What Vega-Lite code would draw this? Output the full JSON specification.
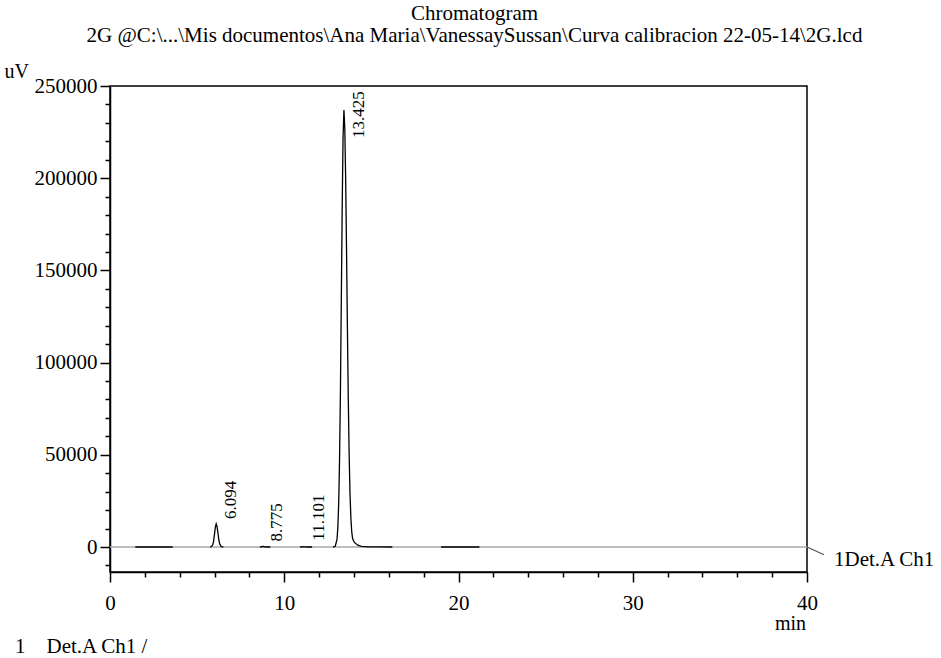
{
  "$schema": "https://vega.github.io/schema/vega-lite/v6.json",
  "width": 697,
  "height": 486,
  "autosize": {"type": "none"},
  "padding": {"left": 110, "top": 86, "right": 134, "bottom": 86},
  "background": "white",
  "title": {
    "text": ["Chromatogram", "2G @C:\\...\\Mis documentos\\Ana Maria\\VanessaySussan\\Curva calibracion 22-05-14\\2G.lcd"],
    "font": "Liberation Serif",
    "fontSize": 21,
    "fontWeight": "normal",
    "color": "black",
    "lineHeight": 22,
    "anchor": "middle",
    "frame": "group",
    "dx": 16,
    "offset": 15
  },
  "config": {
    "font": "Liberation Serif",
    "view": {"stroke": "black", "strokeWidth": 1.5},
    "axis": {
      "grid": false,
      "domainColor": "black",
      "domainWidth": 1.5,
      "tickColor": "black",
      "tickWidth": 1.5,
      "labelColor": "black",
      "labelFont": "Liberation Serif",
      "labelFontSize": 21,
      "labelOverlap": false,
      "labelFlush": false,
      "titleFont": "Liberation Serif",
      "titleFontWeight": "normal",
      "titleColor": "black",
      "titleFontSize": 20
    }
  },
  "resolve": {"axis": {"x": "independent", "y": "independent"}},
  "datasets": {
    "zero": [
      {"t": 0, "uV": 0},
      {"t": 40, "uV": 0}
    ],
    "signal": [
      {"seg": 1, "t": 1.45, "uV": 0},
      {"seg": 1, "t": 3.6, "uV": 0},
      {"seg": 2, "t": 5.75, "uV": 0},
      {"seg": 2, "t": 5.794, "uV": 50},
      {"seg": 2, "t": 5.894, "uV": 1060},
      {"seg": 2, "t": 5.944, "uV": 3100},
      {"seg": 2, "t": 5.994, "uV": 6740},
      {"seg": 2, "t": 6.044, "uV": 10700},
      {"seg": 2, "t": 6.094, "uV": 12500},
      {"seg": 2, "t": 6.144, "uV": 11000},
      {"seg": 2, "t": 6.194, "uV": 7580},
      {"seg": 2, "t": 6.244, "uV": 4060},
      {"seg": 2, "t": 6.294, "uV": 1690},
      {"seg": 2, "t": 6.394, "uV": 140},
      {"seg": 2, "t": 6.5, "uV": 0},
      {"seg": 3, "t": 8.6, "uV": 0},
      {"seg": 3, "t": 8.7, "uV": 150},
      {"seg": 3, "t": 8.775, "uV": 300},
      {"seg": 3, "t": 8.85, "uV": 150},
      {"seg": 3, "t": 9.0, "uV": 0},
      {"seg": 3, "t": 9.2, "uV": 0},
      {"seg": 4, "t": 10.9, "uV": 0},
      {"seg": 4, "t": 11.02, "uV": 120},
      {"seg": 4, "t": 11.101, "uV": 250},
      {"seg": 4, "t": 11.18, "uV": 120},
      {"seg": 4, "t": 11.3, "uV": 0},
      {"seg": 4, "t": 11.6, "uV": 0},
      {"seg": 5, "t": 12.8, "uV": 0},
      {"seg": 5, "t": 12.825, "uV": 24},
      {"seg": 5, "t": 12.925, "uV": 400},
      {"seg": 5, "t": 13.025, "uV": 4000},
      {"seg": 5, "t": 13.075, "uV": 10400},
      {"seg": 5, "t": 13.125, "uV": 23900},
      {"seg": 5, "t": 13.175, "uV": 48100},
      {"seg": 5, "t": 13.225, "uV": 85300},
      {"seg": 5, "t": 13.275, "uV": 133500},
      {"seg": 5, "t": 13.325, "uV": 183700},
      {"seg": 5, "t": 13.375, "uV": 222300},
      {"seg": 5, "t": 13.425, "uV": 237000},
      {"seg": 5, "t": 13.475, "uV": 227000},
      {"seg": 5, "t": 13.525, "uV": 199400},
      {"seg": 5, "t": 13.575, "uV": 160600},
      {"seg": 5, "t": 13.625, "uV": 118700},
      {"seg": 5, "t": 13.675, "uV": 80400},
      {"seg": 5, "t": 13.725, "uV": 49900},
      {"seg": 5, "t": 13.775, "uV": 28500},
      {"seg": 5, "t": 13.825, "uV": 15500},
      {"seg": 5, "t": 13.875, "uV": 8000},
      {"seg": 5, "t": 13.925, "uV": 4500},
      {"seg": 5, "t": 14.025, "uV": 2500},
      {"seg": 5, "t": 14.225, "uV": 1000},
      {"seg": 5, "t": 14.425, "uV": 400},
      {"seg": 5, "t": 14.825, "uV": 120},
      {"seg": 5, "t": 15.4, "uV": 30},
      {"seg": 5, "t": 16.2, "uV": 0},
      {"seg": 6, "t": 19.0, "uV": 0},
      {"seg": 6, "t": 21.2, "uV": 0}
    ],
    "peaks": [
      {"label": "6.094", "t": 6.97, "uV": 15200},
      {"label": "8.775", "t": 9.61, "uV": 3000},
      {"label": "11.101", "t": 11.99, "uV": 3400},
      {"label": "13.425", "t": 14.29, "uV": 221800}
    ],
    "leader": [
      {"t": 40, "uV": 0, "t2": 40.98, "uV2": -4170}
    ],
    "chan": [
      {"label": "1Det.A Ch1", "t": 41.55, "uV": -6900}
    ],
    "foot": [
      {"label": "1\u00a0\u00a0\u00a0 Det.A Ch1 /", "t": -5.45, "uV": -54000}
    ]
  },
  "layer": [
    {
      "data": {"name": "zero"},
      "mark": {"type": "line", "color": "#a9a9a9", "strokeWidth": 1.3},
      "encoding": {
        "x": {
          "field": "t",
          "type": "quantitative",
          "scale": {"domain": [0, 40], "nice": false, "zero": false},
          "axis": {
            "orient": "bottom",
            "values": [0, 10, 20, 30, 40],
            "tickSize": 10,
            "labelPadding": 10,
            "title": "min",
            "titleX": 680,
            "titleY": 57,
            "titleAlign": "center",
            "titleBaseline": "alphabetic"
          }
        },
        "y": {
          "field": "uV",
          "type": "quantitative",
          "scale": {"domain": [-13550, 250000], "nice": false, "zero": false},
          "axis": {
            "orient": "left",
            "values": [0, 50000, 100000, 150000, 200000, 250000],
            "format": "d",
            "tickSize": 10,
            "labelPadding": 3,
            "title": "uV",
            "titleAngle": 0,
            "titleX": -106,
            "titleY": -9,
            "titleAlign": "left",
            "titleBaseline": "alphabetic"
          }
        }
      }
    },
    {
      "data": {"name": "signal"},
      "mark": {"type": "line", "color": "black", "strokeWidth": 1.3},
      "encoding": {
        "x": {
          "field": "t",
          "type": "quantitative",
          "axis": {
            "orient": "bottom",
            "values": [2, 4, 6, 8, 12, 14, 16, 18, 22, 24, 26, 28, 32, 34, 36, 38],
            "tickSize": 5,
            "labels": false,
            "domain": false,
            "title": null
          }
        },
        "y": {
          "field": "uV",
          "type": "quantitative",
          "axis": {
            "orient": "left",
            "values": [-10000, 10000, 20000, 30000, 40000, 60000, 70000, 80000, 90000, 110000, 120000, 130000, 140000, 160000, 170000, 180000, 190000, 210000, 220000, 230000, 240000],
            "tickSize": 5,
            "labels": false,
            "domain": false,
            "title": null
          }
        },
        "detail": {"field": "seg", "type": "nominal"}
      }
    },
    {
      "data": {"name": "peaks"},
      "mark": {"type": "text", "angle": 270, "align": "left", "baseline": "middle", "fontSize": 17, "color": "black", "font": "Liberation Serif"},
      "encoding": {
        "x": {"field": "t", "type": "quantitative", "axis": null},
        "y": {"field": "uV", "type": "quantitative", "axis": null},
        "text": {"field": "label"}
      }
    },
    {
      "data": {"name": "leader"},
      "mark": {"type": "rule", "color": "#555555", "strokeWidth": 1.2},
      "encoding": {
        "x": {"field": "t", "type": "quantitative", "axis": null},
        "y": {"field": "uV", "type": "quantitative", "axis": null},
        "x2": {"field": "t2"},
        "y2": {"field": "uV2"}
      }
    },
    {
      "data": {"name": "chan"},
      "mark": {"type": "text", "align": "left", "baseline": "middle", "fontSize": 21, "color": "black", "font": "Liberation Serif"},
      "encoding": {
        "x": {"field": "t", "type": "quantitative", "axis": null},
        "y": {"field": "uV", "type": "quantitative", "axis": null},
        "text": {"field": "label"}
      }
    },
    {
      "data": {"name": "foot"},
      "mark": {"type": "text", "align": "left", "baseline": "middle", "fontSize": 21, "color": "black", "font": "Liberation Serif"},
      "encoding": {
        "x": {"field": "t", "type": "quantitative", "axis": null},
        "y": {"field": "uV", "type": "quantitative", "axis": null},
        "text": {"field": "label"}
      }
    }
  ]
}
